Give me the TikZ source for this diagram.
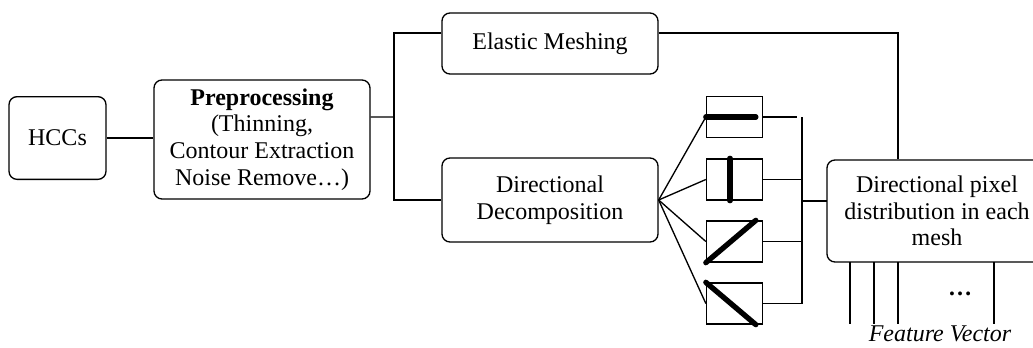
\documentclass[tikz,border=0pt]{standalone}
\usepackage{fontspec}
\setmainfont{Liberation Serif}
\begin{document}
\begin{tikzpicture}[x=0.75pt,y=-0.75pt,line width=1pt,
    txt/.style={font=\fontsize{18}{20}\selectfont,align=center,inner sep=0pt},
    box/.style={txt,draw,rounded corners=6pt},
    dirbox/.style={draw,minimum width=42pt,minimum height=30.75pt,inner sep=0pt},
    bar/.style={line width=4pt,line cap=round}]
  \useasboundingbox (0,0) rectangle (1033,347);
  % main blocks
  \node[box,minimum width=72.75pt,minimum height=62pt] (hcc) at (57.5,138) {HCCs};
  \node[box,minimum width=162pt,minimum height=89.25pt] (pre) at (262,139.5)
    {\textbf{Preprocessing}\\(Thinning,\\Contour Extraction\\Noise Remove…)};
  \node[box,minimum width=162pt,minimum height=45.75pt] (elastic) at (550,43.5) {Elastic Meshing};
  \node[box,minimum width=162pt,minimum height=63pt] (dd) at (550,200) {Directional\\Decomposition};
  \draw[rounded corners=6pt] (827,160) rectangle (1080,262);
  \node[txt,minimum height=76.5pt] (pixel) at (937,211)
    {Directional pixel\\distribution in each\\mesh};
  \coordinate (split) at (394,117);
  \coordinate (bustop) at (802,117);
  \coordinate (busmid) at (802,201);
  \coordinate (busbot) at (802,303.5);
  \coordinate (pixin) at (827,201);
  \coordinate (fv3) at (898,262);
  \draw (hcc.east) -- (hcc.east -| pre.west);
  \draw ([yshift=16.9pt]pre.east) -- (split);
  \draw ([yshift=7.9pt]elastic.west) -| (split |- dd.west) -- (dd.west);
  \draw ([yshift=7.9pt]elastic.east) -| (pixel.north -| fv3);
  % direction boxes
  \foreach \n/\y in {1/117,2/179.5,3/241.5,4/303.5}{
    \node[dirbox] (b\n) at (734.5,\y) {};
    \draw (dd.east) -- (b\n.west);
  }
  \draw[bar] (b1.west) -- ([xshift=37.5pt]b1.west);
  \draw[bar] ([xshift=-3.4pt]b2.north) -- ([xshift=-3.4pt]b2.south);
  \draw[bar] (b3.south west) -- ([xshift=37.5pt]b3.north west);
  \draw[bar] (b4.north west) -- ([xshift=37.5pt]b4.south west);
  \draw (b1.east) -- ([xshift=25.5pt]b1.east);
  \draw (bustop) -- (busbot);
  \foreach \n in {2,3,4}{\draw (b\n.east) -- (b\n.east -| bustop);}
  \draw (busmid) -- (pixin);
  % feature vector
  \foreach \x in {850,874,898,994}{\draw (\x,262) -- (\x,324);}
  \node[txt] (dots) at (960,294) {\textbf{…}};
  \node[txt,font=\fontsize{18}{20}\selectfont\itshape] (fv) at (940,334) {Feature Vector};
\end{tikzpicture}
\end{document}
